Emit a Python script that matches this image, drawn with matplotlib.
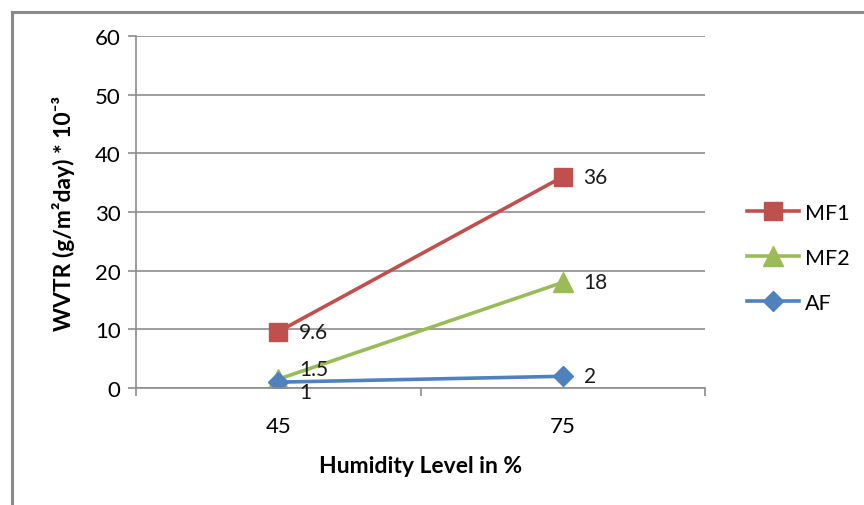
import matplotlib
matplotlib.use("Agg")
import matplotlib.pyplot as plt
from matplotlib.patches import Rectangle

plt.rcParams['font.family'] = ['Lato', 'DejaVu Sans']

# WVTR values per film at each humidity level
humidity = ["45", "75"]
mf1 = [9.6, 36]
mf2 = [1.5, 18]
af = [1, 2]

series = [
    ("MF1", mf1, "#C0504D", "s", 13),
    ("MF2", mf2, "#9BBB59", "^", 14),
    ("AF", af, "#4F81BD", "D", 10),
]
# vertical nudges (points) so the crowded labels at 45 stay readable
nudge = {"MF1": 0, "MF2": 7, "AF": -7}

fig = plt.figure(figsize=(8.64, 5.06), dpi=100)
ax = fig.add_axes([0.1574, 0.2312, 0.6586, 0.6957])

xpos = list(range(len(humidity)))
for name, vals, col, mk, ms in series:
    ax.plot(xpos, vals, color=col, lw=2.6, marker=mk, ms=ms, label=name)
    for i, (x, v) in enumerate(zip(xpos, vals)):
        dy = nudge[name] if i == 0 else 0
        ax.annotate(f"{v:g}", (x, v), xytext=(15, dy), textcoords="offset points",
                    ha="left", va="center", fontsize=15, color="#1a1a1a",
                    annotation_clip=False)

ax.set_xlim(-0.5, 1.5)
ax.set_ylim(0, 60)
ax.set_yticks(range(0, 61, 10))
ax.set_xticks(xpos)
ax.set_xticklabels(humidity)
ax.set_xticks([-0.5, 0.5, 1.5], minor=True)

ax.grid(axis="y", color="#8c8c8c", lw=1.2)
ax.set_axisbelow(True)
for s in ["top", "right"]:
    ax.spines[s].set_visible(False)
ax.spines["left"].set_color("#8c8c8c")
ax.spines["bottom"].set_color("#8c8c8c")
ax.spines["left"].set_linewidth(1.2)
ax.spines["bottom"].set_linewidth(1.2)

ax.tick_params(axis="y", length=6, color="#8c8c8c", width=1.2, labelsize=16, pad=5)
ax.tick_params(axis="x", which="major", length=0, labelsize=16, pad=20)
ax.tick_params(axis="x", which="minor", length=6, color="#8c8c8c", width=1.2)

ax.set_xlabel("Humidity Level in %", fontsize=16.5, fontweight="bold", labelpad=14)
ax.set_ylabel("WVTR (g/m²day) * 10⁻³", fontsize=16.5, fontweight="bold", labelpad=14)

leg = ax.legend(loc="center left", bbox_to_anchor=(1.04, 0.37), frameon=False,
                fontsize=15.5, handlelength=2.4, labelspacing=1.15, handletextpad=0.3)

# outer chart frame, clipped at right and bottom
fig.patches.append(Rectangle((0.014, -0.1), 1.2, 0.9745 + 0.1, transform=fig.transFigure,
                             fill=False, ec="#8a8a8a", lw=2.2))

fig.savefig("out.png", dpi=100)
